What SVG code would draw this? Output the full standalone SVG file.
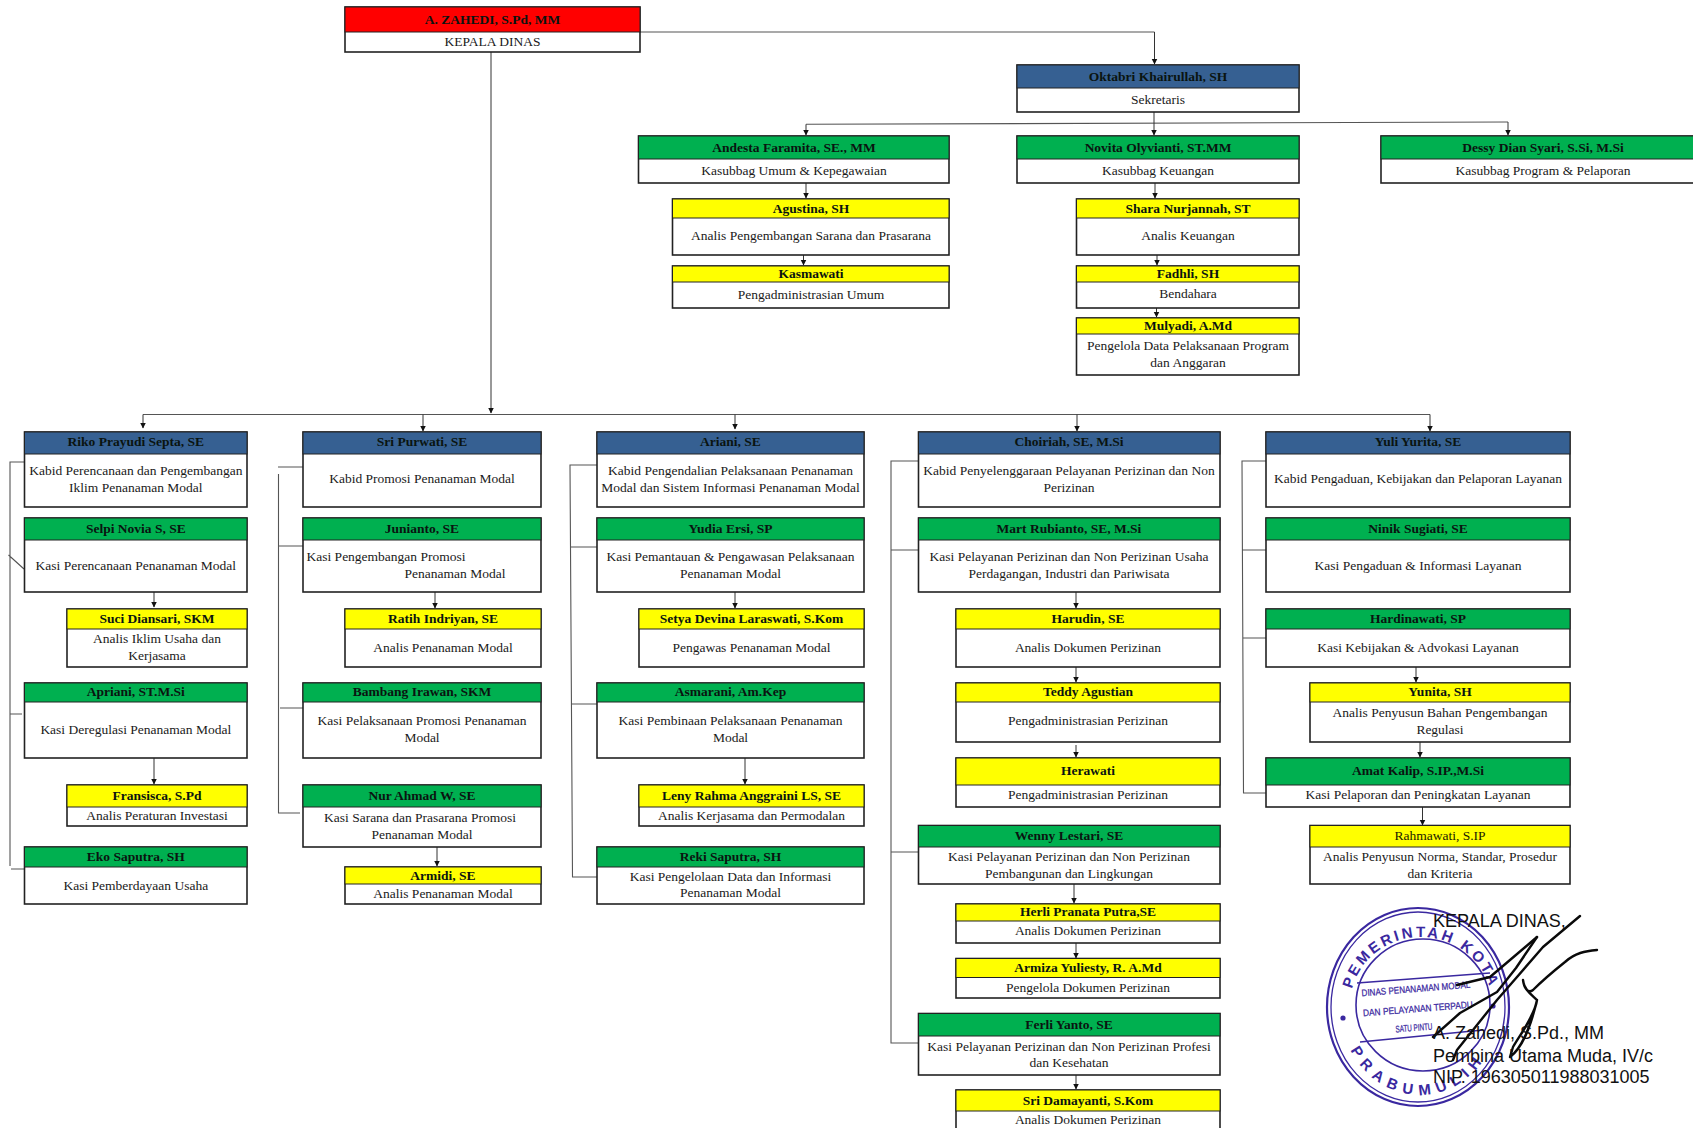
<svg xmlns="http://www.w3.org/2000/svg" width="1693" height="1128" viewBox="0 0 1693 1128">
<style>
.box{fill:#fff;stroke:#222;stroke-width:1.6}
.hd{stroke:#222;stroke-width:1}
.r{fill:#f00}.b{fill:#366092}.g{fill:#00b050}.y{fill:#ff0}
text{font-family:"Liberation Serif","Times New Roman",serif;font-size:13.5px;text-anchor:middle;fill:#1a1a1a}
g[id^="n-"] text{transform:translateY(-1px)}
.n{font-weight:bold;fill:#0a1410}
.nr{fill:#1a1a00}
.c{fill:none;stroke:#555;stroke-width:1.1}
.a{fill:none;stroke:#333;stroke-width:1;marker-end:url(#arr)}
.s{font-family:"Liberation Sans",Arial,sans-serif;font-size:18px;text-anchor:start;fill:#111}
.ring{fill:none;stroke:#3a28a0}
.st{font-family:"Liberation Sans",Arial,sans-serif;font-size:15px;font-weight:bold;fill:#3a28a0;text-anchor:start}
.sb{font-family:"Liberation Sans",Arial,sans-serif;font-size:9.5px;fill:#3a28a0;stroke:#3a28a0;stroke-width:.25}
.sig{fill:none;stroke:#0a0a0a;stroke-width:2.4;stroke-linecap:round;stroke-linejoin:round}
</style>
<defs>
<marker id="arr" markerUnits="userSpaceOnUse" markerWidth="7" markerHeight="7" refX="5.5" refY="3" orient="auto"><path d="M0 0L6 3L0 6z" fill="#111"/></marker>
<path id="arcTop" d="M1350 1005A71 68 0 0 1 1492 1005"/>
<path id="arcBot" d="M1350.5 1050A80 89 0 0 0 1489.5 1050"/>
</defs>
<rect width="1693" height="1128" fill="#fff"/>

<g id="stamp">
<ellipse class="ring" cx="1418" cy="1007" rx="91" ry="99" stroke-width="2.2"/>
<ellipse class="ring" cx="1418" cy="1007" rx="87" ry="95" stroke-width="1.3"/>
<ellipse class="ring" cx="1423" cy="1005" rx="67" ry="66" stroke-width="1.6"/>
<path class="ring" stroke-width="1.6" d="M1357 983L1490 973M1360 1042L1483 1030"/>
<text class="st" letter-spacing="2.8"><textPath href="#arcTop" startOffset="16">PEMERINTAH KOTA</textPath></text>
<text class="st" letter-spacing="6.5"><textPath href="#arcBot">PRABUMULIH</textPath></text>
<text class="sb" transform="rotate(-4.5 1416 990)" x="1416" y="992" textLength="109" lengthAdjust="spacingAndGlyphs">DINAS PENANAMAN MODAL</text>
<text class="sb" transform="rotate(-4.5 1418 1010)" x="1418" y="1012" textLength="110" lengthAdjust="spacingAndGlyphs">DAN PELAYANAN TERPADU</text>
<text class="sb" transform="rotate(-4.5 1414 1029)" x="1414" y="1031" textLength="37" lengthAdjust="spacingAndGlyphs">SATU PINTU</text>
<circle cx="1343" cy="1018" r="2.6" fill="#3a28a0"/>
<circle cx="1493" cy="1006" r="2.6" fill="#3a28a0"/>
</g>

<g id="connectors">
<path class="c" d="M640 32H1154.5"/>
<path class="a" d="M1154.5 32V64"/>
<path class="a" d="M491 52V413"/>
<path class="c" d="M806 124.3L1508 122"/>
<path class="a" d="M806 124.3V135"/>
<path class="a" d="M1154 112V135"/>
<path class="a" d="M1508 122V135"/>
<path class="a" d="M806 183V198"/>
<path class="a" d="M803.5 255V265"/>
<path class="a" d="M1155 183V198"/>
<path class="a" d="M1157 255V265"/>
<path class="a" d="M1156.5 308V317"/>
<path class="c" d="M143 414.5H1430"/>
<path class="a" d="M143 414.5V428"/>
<path class="a" d="M423 414.5V431"/>
<path class="a" d="M735 414.5V429"/>
<path class="a" d="M1077 414.5V431"/>
<path class="a" d="M1430 414.5V431"/>
<path class="a" d="M154 590V607"/>
<path class="a" d="M154 758V784"/>
<path class="a" d="M435 592V608"/>
<path class="a" d="M437 847V866"/>
<path class="a" d="M735 592V608"/>
<path class="a" d="M745 758V784"/>
<path class="a" d="M1076 592V608"/>
<path class="a" d="M1076 667V682"/>
<path class="a" d="M1076 745V757"/>
<path class="a" d="M1074 884V903"/>
<path class="a" d="M1076 943V958"/>
<path class="a" d="M1076 1075V1089"/>
<path class="a" d="M1416 667V682"/>
<path class="a" d="M1420 742V757"/>
<path class="a" d="M1422.5 805V825"/>
<path class="c" d="M24 462H10V866M8.5 555L24 569M10 714H22M11 869H24"/>
<path class="c" d="M278 467H303M278.5 474V813H300M278 546H303M280 708H303"/>
<path class="c" d="M597 465H570L572.5 877H597M570 547H597M572 704H597"/>
<path class="c" d="M918 461H891V1043H918M891 550H918M891 852H918"/>
<path class="c" d="M1266 461H1242L1243.5 793H1266M1242 550H1266M1243 638H1266"/>
</g>

<g id="n-kepala"><rect class="box" x="345" y="7" width="295" height="45"/><rect class="hd r" x="345" y="7" width="295" height="25"/><text class="n" x="492.5" y="24.5">A. ZAHEDI, S.Pd, MM</text><text x="492.5" y="46.5">KEPALA DINAS</text></g>
<g id="n-oktabri"><rect class="box" x="1017" y="65" width="282" height="47"/><rect class="hd b" x="1017" y="65" width="282" height="23"/><text class="n" x="1158" y="82">Oktabri Khairullah, SH</text><text x="1158" y="104.5">Sekretaris</text></g>
<g id="n-andesta"><rect class="box" x="638.5" y="136" width="310.5" height="47"/><rect class="hd g" x="638.5" y="136" width="310.5" height="23"/><text class="n" x="794" y="153">Andesta Faramita, SE., MM</text><text x="794" y="175.5">Kasubbag Umum &amp; Kepegawaian</text></g>
<g id="n-novita"><rect class="box" x="1017" y="136" width="282" height="47"/><rect class="hd g" x="1017" y="136" width="282" height="23"/><text class="n" x="1158" y="153">Novita Olyvianti, ST.MM</text><text x="1158" y="175.5">Kasubbag Keuangan</text></g>
<g id="n-dessy"><rect class="box" x="1381" y="136" width="324" height="47"/><rect class="hd g" x="1381" y="136" width="324" height="23"/><text class="n" x="1543" y="153">Dessy Dian Syari, S.Si, M.Si</text><text x="1543" y="175.5">Kasubbag Program &amp; Pelaporan</text></g>
<g id="n-agustina"><rect class="box" x="672.5" y="199" width="276.5" height="56"/><rect class="hd y" x="672.5" y="199" width="276.5" height="19"/><text class="n" x="811" y="213.5">Agustina, SH</text><text x="811" y="240.5">Analis Pengembangan Sarana dan Prasarana</text></g>
<g id="n-kasmawati"><rect class="box" x="672.5" y="266" width="276.5" height="42"/><rect class="hd y" x="672.5" y="266" width="276.5" height="16"/><text class="n" x="811" y="278.5">Kasmawati</text><text x="811" y="299.5">Pengadministrasian Umum</text></g>
<g id="n-shara"><rect class="box" x="1076.5" y="199" width="222.5" height="56"/><rect class="hd y" x="1076.5" y="199" width="222.5" height="19"/><text class="n" x="1188" y="213.5">Shara Nurjannah, ST</text><text x="1188" y="240.5">Analis Keuangan</text></g>
<g id="n-fadhli"><rect class="box" x="1076.5" y="266" width="222.5" height="42"/><rect class="hd y" x="1076.5" y="266" width="222.5" height="16"/><text class="n" x="1188" y="278.5">Fadhli, SH</text><text x="1188" y="298.5">Bendahara</text></g>
<g id="n-mulyadi"><rect class="box" x="1076.5" y="318" width="222.5" height="57"/><rect class="hd y" x="1076.5" y="318" width="222.5" height="16"/><text class="n" x="1188" y="331">Mulyadi, A.Md</text><text x="1188" y="351">Pengelola Data Pelaksanaan Program</text><text x="1188" y="368">dan Anggaran</text></g>

<g id="n-riko"><rect class="box" x="24.5" y="432" width="222.5" height="75"/><rect class="hd b" x="24.5" y="432" width="222.5" height="22"/><text class="n" x="135.8" y="447">Riko Prayudi Septa, SE</text><text x="135.8" y="476">Kabid Perencanaan dan Pengembangan</text><text x="135.8" y="493">Iklim Penanaman Modal</text></g>
<g id="n-selpi"><rect class="box" x="24.5" y="518" width="222.5" height="74"/><rect class="hd g" x="24.5" y="518" width="222.5" height="22"/><text class="n" x="135.8" y="534">Selpi Novia S, SE</text><text x="135.8" y="571">Kasi Perencanaan Penanaman Modal</text></g>
<g id="n-suci"><rect class="box" x="67" y="609" width="180" height="58"/><rect class="hd y" x="67" y="609" width="180" height="20"/><text class="n" x="157" y="624">Suci Diansari, SKM</text><text x="157" y="644">Analis Iklim Usaha dan</text><text x="157" y="661">Kerjasama</text></g>
<g id="n-apriani"><rect class="box" x="24.5" y="683" width="222.5" height="75"/><rect class="hd g" x="24.5" y="683" width="222.5" height="19"/><text class="n" x="135.8" y="697">Apriani, ST.M.Si</text><text x="135.8" y="735">Kasi Deregulasi Penanaman Modal</text></g>
<g id="n-fransisca"><rect class="box" x="67" y="785" width="180" height="41"/><rect class="hd y" x="67" y="785" width="180" height="22"/><text class="n" x="157" y="801">Fransisca, S.Pd</text><text x="157" y="821">Analis Peraturan Investasi</text></g>
<g id="n-eko"><rect class="box" x="24.5" y="847" width="222.5" height="57"/><rect class="hd g" x="24.5" y="847" width="222.5" height="20"/><text class="n" x="135.8" y="862">Eko Saputra, SH</text><text x="135.8" y="890.5">Kasi Pemberdayaan Usaha</text></g>

<g id="n-sripurwati"><rect class="box" x="303" y="432" width="238" height="75"/><rect class="hd b" x="303" y="432" width="238" height="22"/><text class="n" x="422" y="447">Sri Purwati, SE</text><text x="422" y="484">Kabid Promosi Penanaman Modal</text></g>
<g id="n-junianto"><rect class="box" x="303" y="518" width="238" height="74"/><rect class="hd g" x="303" y="518" width="238" height="22"/><text class="n" x="422" y="534">Junianto, SE</text><text x="306.5" y="562" style="text-anchor:start">Kasi Pengembangan Promosi</text><text x="455" y="579">Penanaman Modal</text></g>
<g id="n-ratih"><rect class="box" x="345" y="609" width="196" height="58"/><rect class="hd y" x="345" y="609" width="196" height="20"/><text class="n" x="443" y="624">Ratih Indriyan, SE</text><text x="443" y="653">Analis Penanaman Modal</text></g>
<g id="n-bambang"><rect class="box" x="303" y="683" width="238" height="75"/><rect class="hd g" x="303" y="683" width="238" height="19"/><text class="n" x="422" y="697">Bambang Irawan, SKM</text><text x="422" y="726">Kasi Pelaksanaan Promosi Penanaman</text><text x="422" y="743">Modal</text></g>
<g id="n-nur"><rect class="box" x="303" y="785" width="238" height="62"/><rect class="hd g" x="303" y="785" width="238" height="22"/><text class="n" x="422" y="801">Nur Ahmad W, SE</text><text x="420" y="823">Kasi Sarana dan Prasarana Promosi</text><text x="422" y="840">Penanaman Modal</text></g>
<g id="n-armidi"><rect class="box" x="345" y="867" width="196" height="37"/><rect class="hd y" x="345" y="867" width="196" height="17"/><text class="n" x="443" y="880.5">Armidi, SE</text><text x="443" y="898.5">Analis Penanaman Modal</text></g>

<g id="n-ariani"><rect class="box" x="597" y="432" width="267" height="75"/><rect class="hd b" x="597" y="432" width="267" height="22"/><text class="n" x="730.5" y="447">Ariani, SE</text><text x="730.5" y="476">Kabid Pengendalian Pelaksanaan Penanaman</text><text x="730.5" y="493">Modal dan Sistem Informasi Penanaman Modal</text></g>
<g id="n-yudia"><rect class="box" x="597" y="518" width="267" height="74"/><rect class="hd g" x="597" y="518" width="267" height="22"/><text class="n" x="730.5" y="534">Yudia Ersi, SP</text><text x="730.5" y="562">Kasi Pemantauan &amp; Pengawasan Pelaksanaan</text><text x="730.5" y="579">Penanaman Modal</text></g>
<g id="n-setya"><rect class="box" x="639" y="609" width="225" height="58"/><rect class="hd y" x="639" y="609" width="225" height="20"/><text class="n" x="751.5" y="624">Setya Devina Laraswati, S.Kom</text><text x="751.5" y="653">Pengawas Penanaman Modal</text></g>
<g id="n-asmarani"><rect class="box" x="597" y="683" width="267" height="75"/><rect class="hd g" x="597" y="683" width="267" height="19"/><text class="n" x="730.5" y="697">Asmarani, Am.Kep</text><text x="730.5" y="726">Kasi Pembinaan Pelaksanaan Penanaman</text><text x="730.5" y="743">Modal</text></g>
<g id="n-leny"><rect class="box" x="639" y="785" width="225" height="41"/><rect class="hd y" x="639" y="785" width="225" height="22"/><text class="n" x="751.5" y="801">Leny Rahma Anggraini LS, SE</text><text x="751.5" y="821">Analis Kerjasama dan Permodalan</text></g>
<g id="n-reki"><rect class="box" x="597" y="847" width="267" height="57"/><rect class="hd g" x="597" y="847" width="267" height="20"/><text class="n" x="730.5" y="862">Reki Saputra, SH</text><text x="730.5" y="881.5">Kasi Pengelolaan Data dan Informasi</text><text x="730.5" y="898">Penanaman Modal</text></g>

<g id="n-choiriah"><rect class="box" x="918.5" y="432" width="301.5" height="75"/><rect class="hd b" x="918.5" y="432" width="301.5" height="22"/><text class="n" x="1069" y="447">Choiriah, SE, M.Si</text><text x="1069" y="476">Kabid Penyelenggaraan Pelayanan Perizinan dan Non</text><text x="1069" y="493">Perizinan</text></g>
<g id="n-mart"><rect class="box" x="918.5" y="518" width="301.5" height="74"/><rect class="hd g" x="918.5" y="518" width="301.5" height="22"/><text class="n" x="1069" y="534">Mart Rubianto, SE, M.Si</text><text x="1069" y="562">Kasi Pelayanan Perizinan dan Non Perizinan Usaha</text><text x="1069" y="579">Perdagangan, Industri dan Pariwisata</text></g>
<g id="n-harudin"><rect class="box" x="956" y="609" width="264" height="58"/><rect class="hd y" x="956" y="609" width="264" height="20"/><text class="n" x="1088" y="624">Harudin, SE</text><text x="1088" y="653">Analis Dokumen Perizinan</text></g>
<g id="n-teddy"><rect class="box" x="956" y="683" width="264" height="59"/><rect class="hd y" x="956" y="683" width="264" height="19"/><text class="n" x="1088" y="697">Teddy Agustian</text><text x="1088" y="726">Pengadministrasian Perizinan</text></g>
<g id="n-herawati"><rect class="box" x="956" y="758" width="264" height="49"/><rect class="hd y" x="956" y="758" width="264" height="27"/><text class="n" x="1088" y="776">Herawati</text><text x="1088" y="800">Pengadministrasian Perizinan</text></g>
<g id="n-wenny"><rect class="box" x="918.5" y="825.5" width="301.5" height="58.5"/><rect class="hd g" x="918.5" y="825.5" width="301.5" height="21.5"/><text class="n" x="1069" y="841">Wenny Lestari, SE</text><text x="1069" y="861.5">Kasi Pelayanan Perizinan dan Non Perizinan</text><text x="1069" y="878.5">Pembangunan dan Lingkungan</text></g>
<g id="n-herli"><rect class="box" x="956" y="904" width="264" height="39"/><rect class="hd y" x="956" y="904" width="264" height="17"/><text class="n" x="1088" y="916.5">Herli Pranata Putra,SE</text><text x="1088" y="936">Analis Dokumen Perizinan</text></g>
<g id="n-armiza"><rect class="box" x="956" y="958.5" width="264" height="39.5"/><rect class="hd y" x="956" y="958.5" width="264" height="19"/><text class="n" x="1088" y="972.5">Armiza Yuliesty, R. A.Md</text><text x="1088" y="992.5">Pengelola Dokumen Perizinan</text></g>
<g id="n-ferli"><rect class="box" x="918.5" y="1013.5" width="301.5" height="61.5"/><rect class="hd g" x="918.5" y="1013.5" width="301.5" height="22.5"/><text class="n" x="1069" y="1029.5">Ferli Yanto, SE</text><text x="1069" y="1051.5">Kasi Pelayanan Perizinan dan Non Perizinan Profesi</text><text x="1069" y="1068">dan Kesehatan</text></g>
<g id="n-sridamayanti"><rect class="box" x="956" y="1090" width="264" height="50"/><rect class="hd y" x="956" y="1090" width="264" height="21"/><text class="n" x="1088" y="1105.5">Sri Damayanti, S.Kom</text><text x="1088" y="1124.5">Analis Dokumen Perizinan</text></g>

<g id="n-yuli"><rect class="box" x="1266" y="432" width="304" height="75"/><rect class="hd b" x="1266" y="432" width="304" height="22"/><text class="n" x="1418" y="447">Yuli Yurita, SE</text><text x="1418" y="484">Kabid Pengaduan, Kebijakan dan Pelaporan Layanan</text></g>
<g id="n-ninik"><rect class="box" x="1266" y="518" width="304" height="74"/><rect class="hd g" x="1266" y="518" width="304" height="22"/><text class="n" x="1418" y="534">Ninik Sugiati, SE</text><text x="1418" y="571">Kasi Pengaduan &amp; Informasi Layanan</text></g>
<g id="n-hardinawati"><rect class="box" x="1266" y="609" width="304" height="58"/><rect class="hd g" x="1266" y="609" width="304" height="20"/><text class="n" x="1418" y="624">Hardinawati, SP</text><text x="1418" y="653">Kasi Kebijakan &amp; Advokasi Layanan</text></g>
<g id="n-yunita"><rect class="box" x="1310" y="683" width="260" height="59"/><rect class="hd y" x="1310" y="683" width="260" height="19"/><text class="n" x="1440" y="697">Yunita, SH</text><text x="1440" y="717.5">Analis Penyusun Bahan Pengembangan</text><text x="1440" y="734.5">Regulasi</text></g>
<g id="n-amat"><rect class="box" x="1266" y="758" width="304" height="49"/><rect class="hd g" x="1266" y="758" width="304" height="27"/><text class="n" x="1418" y="776">Amat Kalip, S.IP.,M.Si</text><text x="1418" y="800">Kasi Pelaporan dan Peningkatan Layanan</text></g>
<g id="n-rahmawati"><rect class="box" x="1310" y="825.5" width="260" height="58.5"/><rect class="hd y" x="1310" y="825.5" width="260" height="21.5"/><text class="nr" x="1440" y="841">Rahmawati, S.IP</text><text x="1440" y="861.5">Analis Penyusun Norma, Standar, Prosedur</text><text x="1440" y="878.5">dan Kriteria</text></g>

<g id="signature">
<path class="sig" d="M1580 916L1543 947L1517 977L1497 1000L1457 1050L1453 1060"/>
<path class="sig" d="M1537 937L1510 960L1490 977L1457 985"/>
<path class="sig" d="M1537 937L1516 968L1497 992L1460 1013L1433 1037"/>
<path class="sig" d="M1597 950C1585 951 1575 953 1565 962C1555 970 1545 978 1533 990C1528 994 1524 988 1523 980C1524 990 1532 995 1537 1000C1535 1015 1520 1035 1513 1047L1510 1057C1520 1050 1530 1030 1537 1000"/>
<text class="s" x="1433" y="926.7">KEPALA DINAS,</text>
<text class="s" x="1433" y="1039">A. Zahedi, S.Pd., MM</text>
<text class="s" x="1433" y="1062">Pembina Utama Muda, IV/c</text>
<text class="s" x="1433" y="1083">NIP. 196305011988031005</text>
</g>
</svg>
